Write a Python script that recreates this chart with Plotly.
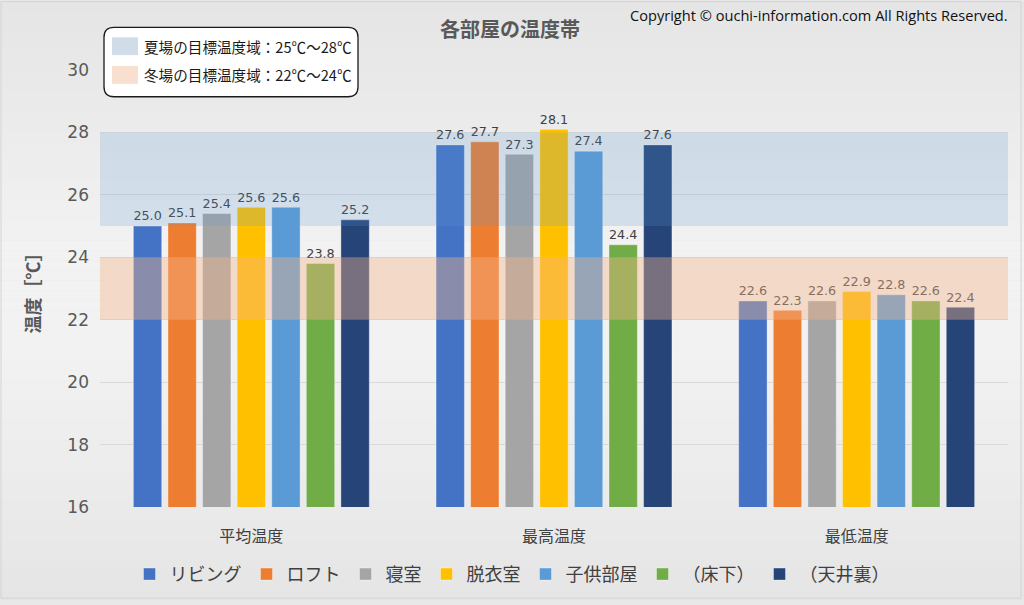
import plotly.graph_objects as go

categories = ["平均温度", "最高温度", "最低温度"]
rooms = ["リビング", "ロフト", "寝室", "脱衣室", "子供部屋", "（床下）", "（天井裏）"]
living = [25.0, 27.6, 22.6]
loft = [25.1, 27.7, 22.3]
bedroom = [25.4, 27.3, 22.6]
dressing = [25.6, 28.1, 22.9]
kids = [25.6, 27.4, 22.8]
underfloor = [23.8, 24.4, 22.6]
attic = [25.2, 27.6, 22.4]
series = [living, loft, bedroom, dressing, kids, underfloor, attic]
colors = ["#4472C4", "#ED7D31", "#A5A5A5", "#FFC000", "#5B9BD5", "#70AD47", "#264478"]
summer_band = [25, 28]
winter_band = [22, 24]
y_ticks = [16, 18, 20, 22, 24, 26, 28, 30]

W, H = 1024, 605
L, R, T, B = 100, 1008, 70, 511
FONT = "Noto Sans CJK JP"


def px(x):
    return (x - L) / (R - L)


def py(y):
    return (B - y) / (B - T)


fig = go.Figure()
for name, vals, c in zip(rooms, series, colors):
    fig.add_trace(go.Bar(
        x=categories, y=vals, name=name,
        marker=dict(color=c, line=dict(color="rgba(255,255,255,0.35)", width=1)),
        text=[f"{v:.1f}" for v in vals], textposition="outside",
        textfont=dict(size=14, color="#404040", family="DejaVu Sans"),
        cliponaxis=False,
    ))

shapes = []
# background gradient stripes
profile = [(0, 229), (100, 234), (250, 242), (350, 242), (480, 236), (605, 229)]
n = 60
for i in range(n):
    y0 = H * i / n
    y1 = H * (i + 1) / n
    ym = (y0 + y1) / 2
    for (a, ga), (b, gb) in zip(profile[:-1], profile[1:]):
        if a <= ym <= b:
            g = int(round(ga + (gb - ga) * (ym - a) / (b - a)))
            break
    shapes.append(dict(type="rect", xref="paper", yref="paper", layer="below",
                       x0=px(0), x1=px(W), y0=py(y1), y1=py(y0),
                       fillcolor=f"rgb({g},{g},{g})", line=dict(width=0)))
# outer border
shapes.append(dict(type="rect", xref="paper", yref="paper", layer="below",
                   x0=px(1), x1=px(1021), y0=py(603), y1=py(1),
                   fillcolor="rgba(0,0,0,0)", line=dict(color="#d4d4d4", width=1)))
# target bands (drawn above bars)
shapes.append(dict(type="rect", xref="paper", yref="y", layer="above",
                   x0=0, x1=1, y0=summer_band[0], y1=summer_band[1],
                   fillcolor="rgba(91,155,213,0.2)", line=dict(width=0)))
shapes.append(dict(type="rect", xref="paper", yref="y", layer="above",
                   x0=0, x1=1, y0=winter_band[0], y1=winter_band[1],
                   fillcolor="rgba(245,179,137,0.4)", line=dict(width=0)))

# rounded legend box
bx0, bx1, by0, by1, r = 104, 358, 27, 97, 10
rx = r / (R - L)
ry = r / (B - T)
X0, X1, Y0, Y1 = px(bx0), px(bx1), py(by1), py(by0)
path = (f"M {X0+rx} {Y1} L {X1-rx} {Y1} Q {X1} {Y1} {X1} {Y1-ry} "
        f"L {X1} {Y0+ry} Q {X1} {Y0} {X1-rx} {Y0} L {X0+rx} {Y0} "
        f"Q {X0} {Y0} {X0} {Y0+ry} L {X0} {Y1-ry} Q {X0} {Y1} {X0+rx} {Y1} Z")
shapes.append(dict(type="path", xref="paper", yref="paper", layer="above", path=path,
                   fillcolor="white", line=dict(color="#1a1a1a", width=1.3)))
shapes.append(dict(type="rect", xref="paper", yref="paper", layer="above",
                   x0=px(112), x1=px(138), y0=py(55), y1=py(37),
                   fillcolor="#d0dce8", line=dict(width=0)))
shapes.append(dict(type="rect", xref="paper", yref="paper", layer="above",
                   x0=px(112), x1=px(138), y0=py(84), y1=py(66),
                   fillcolor="#f9dfcf", line=dict(width=0)))

annotations = [
    dict(text="夏場の目標温度域：25℃～28℃", x=px(142), y=py(46), xref="paper", yref="paper",
         xanchor="left", yanchor="middle", showarrow=False,
         font=dict(size=14.6, color="#1a1a1a", family=FONT)),
    dict(text="冬場の目標温度域：22℃～24℃", x=px(142), y=py(75), xref="paper", yref="paper",
         xanchor="left", yanchor="middle", showarrow=False,
         font=dict(size=14.6, color="#1a1a1a", family=FONT)),
    dict(text="<b>各部屋の温度帯</b>", x=px(510), y=py(28), xref="paper", yref="paper",
         xanchor="center", yanchor="middle", showarrow=False,
         font=dict(size=20, color="#595959", family=FONT)),
    dict(text="Copyright © ouchi-information.com All Rights Reserved.", x=px(1010), y=py(14),
         xref="paper", yref="paper", xanchor="right", yanchor="middle", showarrow=False,
         font=dict(size=14.6, color="#111111", family="Open Sans")),
]

fig.update_layout(
    width=W, height=H,
    margin=dict(l=L, r=W - R, t=T, b=H - B, pad=0),
    paper_bgcolor="#e8e8e8", plot_bgcolor="rgba(0,0,0,0)",
    barmode="group", bargap=0.2, bargroupgap=0.18,
    font=dict(family=FONT, color="#404040"),
    showlegend=True,
    legend=dict(orientation="h", x=px(512), xanchor="center", y=py(579), yanchor="middle",
                font=dict(size=18, color="#404040", family=FONT),
                bgcolor="rgba(0,0,0,0)", traceorder="normal", itemwidth=30),
    shapes=shapes, annotations=annotations,
    xaxis=dict(showgrid=False, showline=False, ticks="", tickfont=dict(size=16, color="#404040"),
               ticklabelstandoff=18),
    yaxis=dict(range=[16, 30], tickvals=y_ticks, showgrid=True, gridcolor="#d9d9d9",
               gridwidth=1, zeroline=False, showline=False, ticks="",
               tickfont=dict(size=17, color="#595959", family="DejaVu Sans"),
               ticklabelstandoff=10,
               title=dict(text="<b>温度［℃］</b>", standoff=22,
                          font=dict(size=18, color="#595959", family=FONT))),
)

fig.write_html("out.html", post_script="document.body.style.margin='0';",
               config={"displayModeBar": False})
